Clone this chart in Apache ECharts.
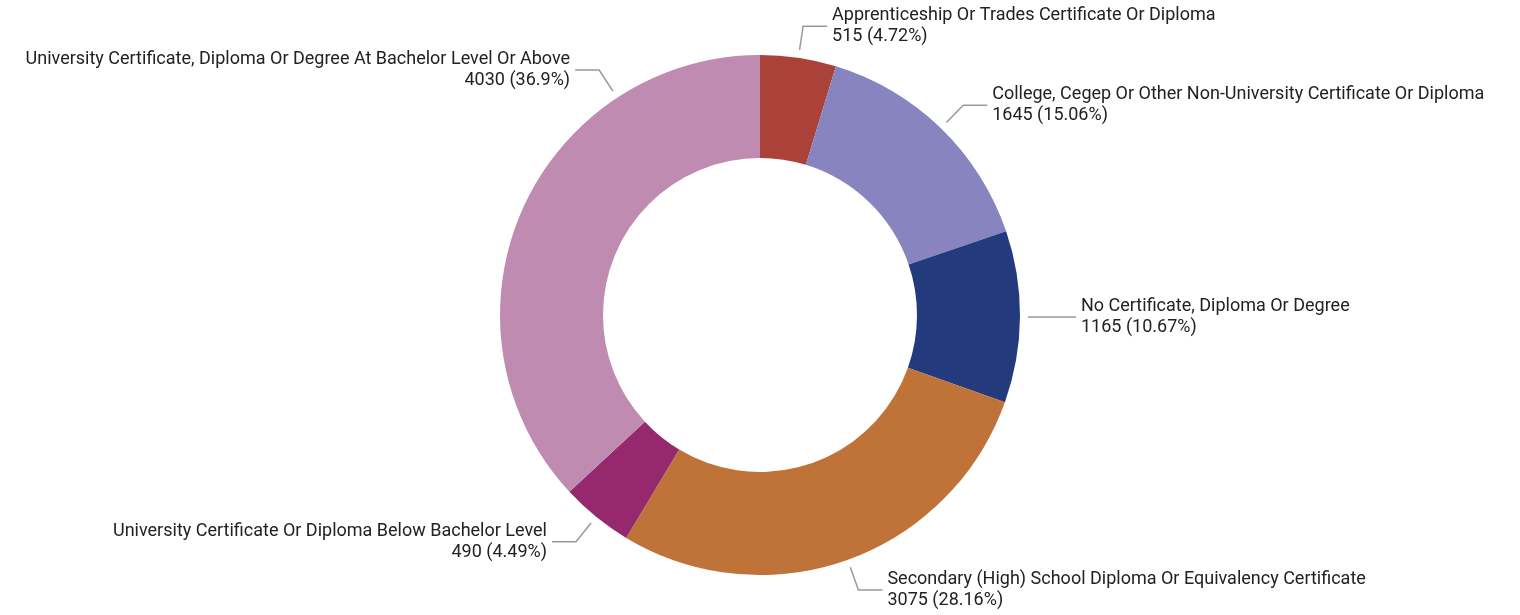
<!DOCTYPE html>
<html>
<head>
<meta charset="utf-8">
<script src="https://cdn.jsdelivr.net/npm/echarts@6/dist/echarts.min.js"></script>
<style>
  html, body { margin: 0; padding: 0; background: #fff; }
  #chart { width: 1520px; height: 615px; }
</style>
</head>
<body>
<div id="chart"></div>
<script>
const categories = [
  'Apprenticeship Or Trades Certificate Or Diploma',
  'College, Cegep Or Other Non-University Certificate Or Diploma',
  'No Certificate, Diploma Or Degree',
  'Secondary (High) School Diploma Or Equivalency Certificate',
  'University Certificate Or Diploma Below Bachelor Level',
  'University Certificate, Diploma Or Degree At Bachelor Level Or Above'
]
const values = [515, 1645, 1165, 3075, 490, 4030]
const colors = ['#ab423a', '#8884c0', '#233a7d', '#c07338', '#96296d', '#bf8bb0']

const cx = 760
const cy = 315
const outerR = 260
const gap = 8

function layoutLabel(p) {
  if (p.dataIndex === 5) {
    // the big slice's label sits near the top of that slice, not at its middle
    const t = 326.7 * Math.PI / 180
    const sx = Math.sin(t)
    const sy = -Math.cos(t)
    const p0 = [cx + (outerR + gap) * sx, cy + (outerR + gap) * sy]
    const p1 = [p0[0] + 25 * sx, p0[1] + 25 * sy]
    const p2 = [p1[0] - 24, p1[1]]
    return {
      x: p2[0] - 5,
      y: p2[1],
      align: 'right',
      verticalAlign: 'middle',
      labelLinePoints: [p0, p1, p2]
    }
  }
  const pts = p.labelLinePoints
  if (!pts) return {}
  // start the leader line a little off the ring
  const dx = pts[1][0] - pts[0][0]
  const dy = pts[1][1] - pts[0][1]
  const d = Math.sqrt(dx * dx + dy * dy) || 1
  const start = [pts[0][0] + dx / d * gap, pts[0][1] + dy / d * gap]
  return { labelLinePoints: [start, pts[1], pts[2]] }
}

const chart = echarts.init(document.getElementById('chart'))
chart.setOption({
  animation: false,
  color: colors,
  series: [{
    type: 'pie',
    center: [cx, cy],
    radius: [157, outerR],
    startAngle: 90,
    clockwise: true,
    percentPrecision: 2,
    data: categories.map((name, i) => ({ name, value: values[i] })),
    label: {
      formatter: '{b}\n{c} ({d}%)',
      fontFamily: 'Roboto',
      fontSize: 18,
      lineHeight: 21,
      color: '#222',
      overflow: 'none'
    },
    labelLine: {
      length: 32,
      length2: 24,
      lineStyle: { color: '#999', width: 1.5 }
    },
    labelLayout: layoutLabel,
    itemStyle: { borderWidth: 0 }
  }]
})
</script>
</body>
</html>
